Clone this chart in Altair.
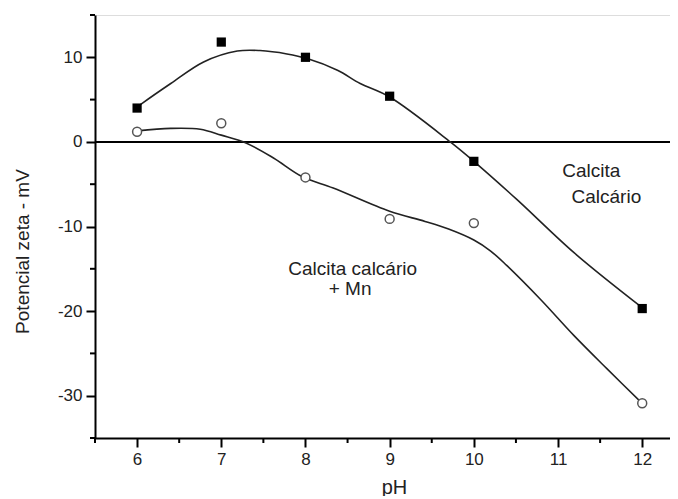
import altair as alt
import pandas as pd

# Measured points
ph_points = [6, 7, 8, 9, 10, 12]
calcita_calcario = [4.0, 11.8, 10.0, 5.4, -2.3, -19.7]
calcita_mn = [1.2, 2.2, -4.2, -9.1, -9.6, -30.9]

# Fitted curves
curve1_ph = [6.0, 6.06, 6.4, 6.79, 7.19, 7.46, 7.78, 8.02, 8.38, 8.65, 9.0, 9.72, 10.0, 10.51, 11.19, 12.0]
curve1_val = [4.1, 4.55, 6.9, 9.45, 10.74, 10.8, 10.4, 9.85, 8.47, 6.9, 5.3, 0.0, -2.3, -6.8, -13.1, -19.6]
curve2_ph = [6.0, 6.4, 6.75, 7.0, 7.3, 7.62, 7.96, 8.33, 9.0, 9.42, 9.7, 10.0, 10.2, 10.39, 10.79, 11.19, 11.58, 12.0]
curve2_val = [1.3, 1.6, 1.5, 0.8, -0.15, -1.9, -4.1, -5.45, -8.2, -9.4, -10.3, -11.6, -12.9, -14.6, -18.6, -22.9, -26.8, -30.9]

x_major = [6, 7, 8, 9, 10, 11, 12]
x_minor = [5.5, 6.5, 7.5, 8.5, 9.5, 10.5, 11.5]
y_major = [10, 0, -10, -20, -30]
y_minor = [15, 5, -5, -15, -25, -35]

FONT = "Liberation Sans"
TXT = "#222222"
W, H = 575, 423

xs = alt.Scale(domain=[5.5, 12.33], nice=False, zero=False)
ys = alt.Scale(domain=[-35, 15], nice=False, zero=False)

pts = pd.DataFrame({"ph": ph_points, "a": calcita_calcario, "b": calcita_mn})
c1 = pd.DataFrame({"ph": curve1_ph, "v": curve1_val})
c2 = pd.DataFrame({"ph": curve2_ph, "v": curve2_val})

hyphen = "datum.value < 0 ? '-' + abs(datum.value) : '' + datum.value"

x_axis = alt.Axis(values=x_major, title="pH", labelFont=FONT, labelFontSize=17, labelColor=TXT,
                  titleFont=FONT, titleFontSize=20, titleColor=TXT, titleFontWeight="normal",
                  domainColor="black", domainWidth=2, tickColor="black", tickWidth=2, tickSize=9,
                  labelPadding=4, grid=False, titleX=299, titleY=55, titleBaseline="alphabetic",
                  labelExpr=hyphen)
y_axis = alt.Axis(values=y_major, title="Potencial zeta - mV", labelFont=FONT, labelFontSize=17,
                  labelColor=TXT, titleFont=FONT, titleFontSize=19, titleColor=TXT,
                  titleFontWeight="normal", domainColor="black", domainWidth=2, tickColor="black",
                  tickWidth=2, tickSize=9, labelPadding=4, grid=False, titleX=-73, titleY=236,
                  titleBaseline="middle", titleAlign="center", labelExpr=hyphen)

line1 = alt.Chart(c1).mark_line(color="#222222", strokeWidth=1.6, interpolate="catmull-rom").encode(
    x=alt.X("ph:Q", scale=xs, axis=x_axis),
    y=alt.Y("v:Q", scale=ys, axis=y_axis),
)
line2 = alt.Chart(c2).mark_line(color="#222222", strokeWidth=1.6, interpolate="catmull-rom").encode(
    x=alt.X("ph:Q", scale=xs), y=alt.Y("v:Q", scale=ys)
)
zero = alt.Chart(pd.DataFrame({"z": [0]})).mark_rule(color="black", strokeWidth=2).encode(
    y=alt.Y("z:Q", scale=ys), x=alt.value(0), x2=alt.value(W)
)
sq = alt.Chart(pts).mark_point(shape="square", filled=True, color="black", size=85, opacity=1).encode(
    x=alt.X("ph:Q", scale=xs), y=alt.Y("a:Q", scale=ys)
)
circ = alt.Chart(pts).mark_point(shape="circle", filled=True, fill="white", stroke="#555555",
                                 strokeWidth=1.5, size=80, opacity=1).encode(
    x=alt.X("ph:Q", scale=xs), y=alt.Y("b:Q", scale=ys)
)
xmin = alt.Chart(pd.DataFrame({"t": x_minor})).mark_rule(color="black", strokeWidth=2).encode(
    x=alt.X("t:Q", scale=xs), y=alt.value(H), y2=alt.value(H + 5)
)
ymin = alt.Chart(pd.DataFrame({"t": y_minor})).mark_rule(color="black", strokeWidth=2).encode(
    y=alt.Y("t:Q", scale=ys), x=alt.value(-5), x2=alt.value(0)
)

def label(txt, xv, yv, align):
    return alt.Chart(pd.DataFrame({"s": [txt]})).mark_text(
        font=FONT, fontSize=19, color=TXT, align=align, baseline="alphabetic"
    ).encode(x=alt.datum(xv, scale=xs), y=alt.datum(yv, scale=ys), text="s:N")

labels = (label("Calcita", 11.05, -4.1, "left") + label("Calcário", 11.16, -7.2, "left")
          + label("Calcita calcário", 8.56, -15.7, "center") + label("+ Mn", 8.53, -18.1, "center"))

chart = alt.layer(zero, line1, line2, xmin, ymin, sq, circ, labels).properties(
    width=W, height=H,
    autosize=alt.AutoSizeParams(type="none"),
    padding={"left": 87, "top": 7, "right": 0, "bottom": 58},
).configure_view(stroke=None).configure(background="white")

chart.save("out.html", embed_options={"renderer": "svg", "actions": False})
